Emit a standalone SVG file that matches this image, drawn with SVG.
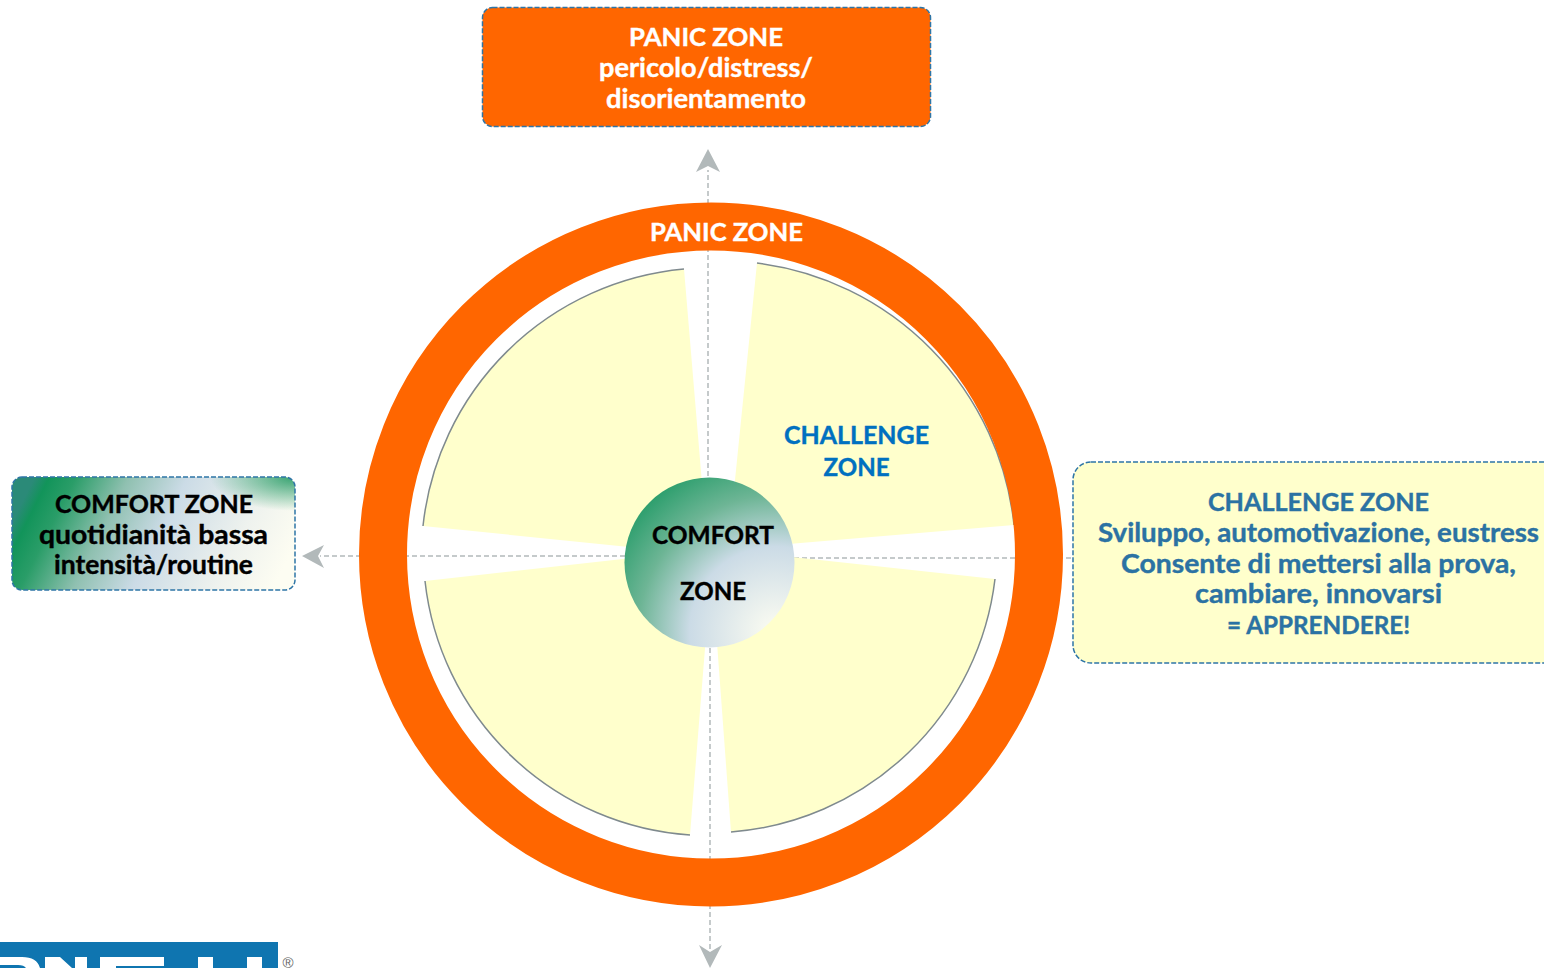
<svg xmlns="http://www.w3.org/2000/svg" width="1544" height="968" viewBox="0 0 1544 968">
<style>
text{font-family:"Lato","Liberation Sans",sans-serif;font-weight:700;text-anchor:middle;font-size:25.5px;stroke-width:.4px}
text.l{font-size:27px}
.sector{fill:#ffffcc}
.arc{fill:none;stroke:#7f8a8e;stroke-width:1.5}
.conn{fill:none;stroke:#b2b9ba;stroke-width:1.5;stroke-dasharray:5 3}
.head{fill:#b2b9ba}
.box{stroke:#2e75a6;stroke-width:1.5;stroke-dasharray:5 2}
.w{fill:#fff;stroke:#fff}.k{fill:#000;stroke:#000}.b{fill:#2b72a3;stroke:#2b72a3}
</style>
<defs>
<radialGradient id="hub" gradientUnits="userSpaceOnUse" cx="775" cy="632" r="190">
<stop offset="0" stop-color="#fdfdf2"/><stop offset="0.45" stop-color="#cbdbe6"/><stop offset="0.72" stop-color="#6db595"/><stop offset="0.95" stop-color="#2e9f6e"/>
</radialGradient>
<linearGradient id="cbox" x1="0" y1="0.4" x2="1" y2="0.6">
<stop offset="0" stop-color="#2b8a78"/><stop offset="0.05" stop-color="#12945a"/><stop offset="0.14" stop-color="#2a9d68"/><stop offset="0.32" stop-color="#8fc0b0"/><stop offset="0.52" stop-color="#cbdbe6"/><stop offset="0.8" stop-color="#eef2ee"/><stop offset="1" stop-color="#fdfdf2"/>
</linearGradient>
<radialGradient id="corner" cx="1" cy="0" r="0.3">
<stop offset="0" stop-color="#2a9d68" stop-opacity="0.95"/><stop offset="1" stop-color="#2a9d68" stop-opacity="0"/>
</radialGradient>
</defs>
<g id="logo">
<rect x="0" y="942" width="278" height="26" fill="#0f75b0"/>
<path class="w" style="stroke:none" d="M0 957H22Q37 957 40 968H26Q24 965 18 965H0ZM45 957H60L72 968H45ZM75 957H87V968H75ZM100 957H164V966H116V968H100ZM198 957H213V968H198ZM247 957H262V968H247Z"/>
<text x="288" y="968" style="font-family:'Liberation Sans',sans-serif;font-size:15px;font-weight:400;fill:#666">®</text>
</g>
<g id="connectors">
<path class="conn" d="M708 476V170"/>
<path class="conn" d="M625 556H320"/>
<path class="conn" d="M794 558H1073"/>
<path class="conn" d="M710 648V950"/>
<path class="head" d="M708 149L720 172L708 166L696 172Z"/>
<path class="head" d="M302 556L324 545L318 556L324 568Z"/>
<path class="head" d="M710 968L699 945L710 952L722 945Z"/>
</g>
<g id="sectors">
<path class="sector" d="M684 269A289 289 0 0 0 423 526L708 555Z"/>
<path class="sector" d="M757 263A295 295 0 0 1 1014 525L728 549Z"/>
<path class="sector" d="M995 579A288 288 0 0 1 731 832L710 548Z"/>
<path class="sector" d="M690 835A286 286 0 0 1 425 581L713 549Z"/>
<path class="arc" d="M684 269A289 289 0 0 0 423 526"/>
<path class="arc" d="M757 263A295 295 0 0 1 1014 525"/>
<path class="arc" d="M995 579A288 288 0 0 1 731 832"/>
<path class="arc" d="M690 835A286 286 0 0 1 425 581"/>
<text x="856.500" y="444" fill="#0070c0" stroke="#0070c0" textLength="145" lengthAdjust="spacingAndGlyphs">CHALLENGE</text>
<text x="856.500" y="476" fill="#0070c0" stroke="#0070c0" textLength="66" lengthAdjust="spacingAndGlyphs">ZONE</text>
</g>
<g id="ring">
<circle cx="711" cy="554.500" r="328" fill="none" stroke="#ff6600" stroke-width="48"/>
<text class="w" x="726.500" y="241" textLength="153" lengthAdjust="spacingAndGlyphs">PANIC ZONE</text>
</g>
<g id="hub-node">
<circle cx="709.500" cy="562.500" r="85" fill="url(#hub)"/>
<text class="k" x="713" y="544" textLength="122" lengthAdjust="spacingAndGlyphs">COMFORT</text>
<text class="k" x="713" y="600" textLength="66" lengthAdjust="spacingAndGlyphs">ZONE</text>
</g>
<g id="panic-box">
<rect class="box" x="482.500" y="7.500" width="448" height="119" rx="10" fill="#ff6600"/>
<text class="w" x="706" y="46" textLength="154" lengthAdjust="spacingAndGlyphs">PANIC ZONE</text>
<text class="w l" x="706" y="77" textLength="214" lengthAdjust="spacingAndGlyphs">pericolo/distress/</text>
<text class="w l" x="706" y="108" textLength="200" lengthAdjust="spacingAndGlyphs">disorientamento</text>
</g>
<g id="comfort-box">
<rect x="12" y="477" width="283" height="113" rx="10" fill="url(#cbox)"/>
<rect class="box" x="12" y="477" width="283" height="113" rx="10" fill="url(#corner)"/>
<text class="k" x="154" y="513" textLength="198" lengthAdjust="spacingAndGlyphs">COMFORT ZONE</text>
<text class="k l" x="153.500" y="544" textLength="229" lengthAdjust="spacingAndGlyphs">quotidianità bassa</text>
<text class="k l" x="153.500" y="574" textLength="199" lengthAdjust="spacingAndGlyphs">intensità/routine</text>
</g>
<g id="challenge-box">
<rect class="box" x="1073" y="462" width="500" height="201" rx="18" fill="#ffffcc"/>
<text class="b" x="1318.500" y="511" textLength="221" lengthAdjust="spacingAndGlyphs">CHALLENGE ZONE</text>
<text class="b l" x="1318.500" y="542" textLength="441" lengthAdjust="spacingAndGlyphs">Sviluppo, automotivazione, eustress</text>
<text class="b l" x="1318.500" y="573" textLength="395" lengthAdjust="spacingAndGlyphs">Consente di mettersi alla prova,</text>
<text class="b l" x="1318.500" y="603" textLength="247" lengthAdjust="spacingAndGlyphs">cambiare, innovarsi</text>
<text class="b" x="1318.500" y="634" textLength="183" lengthAdjust="spacingAndGlyphs">= APPRENDERE!</text>
</g>
</svg>
